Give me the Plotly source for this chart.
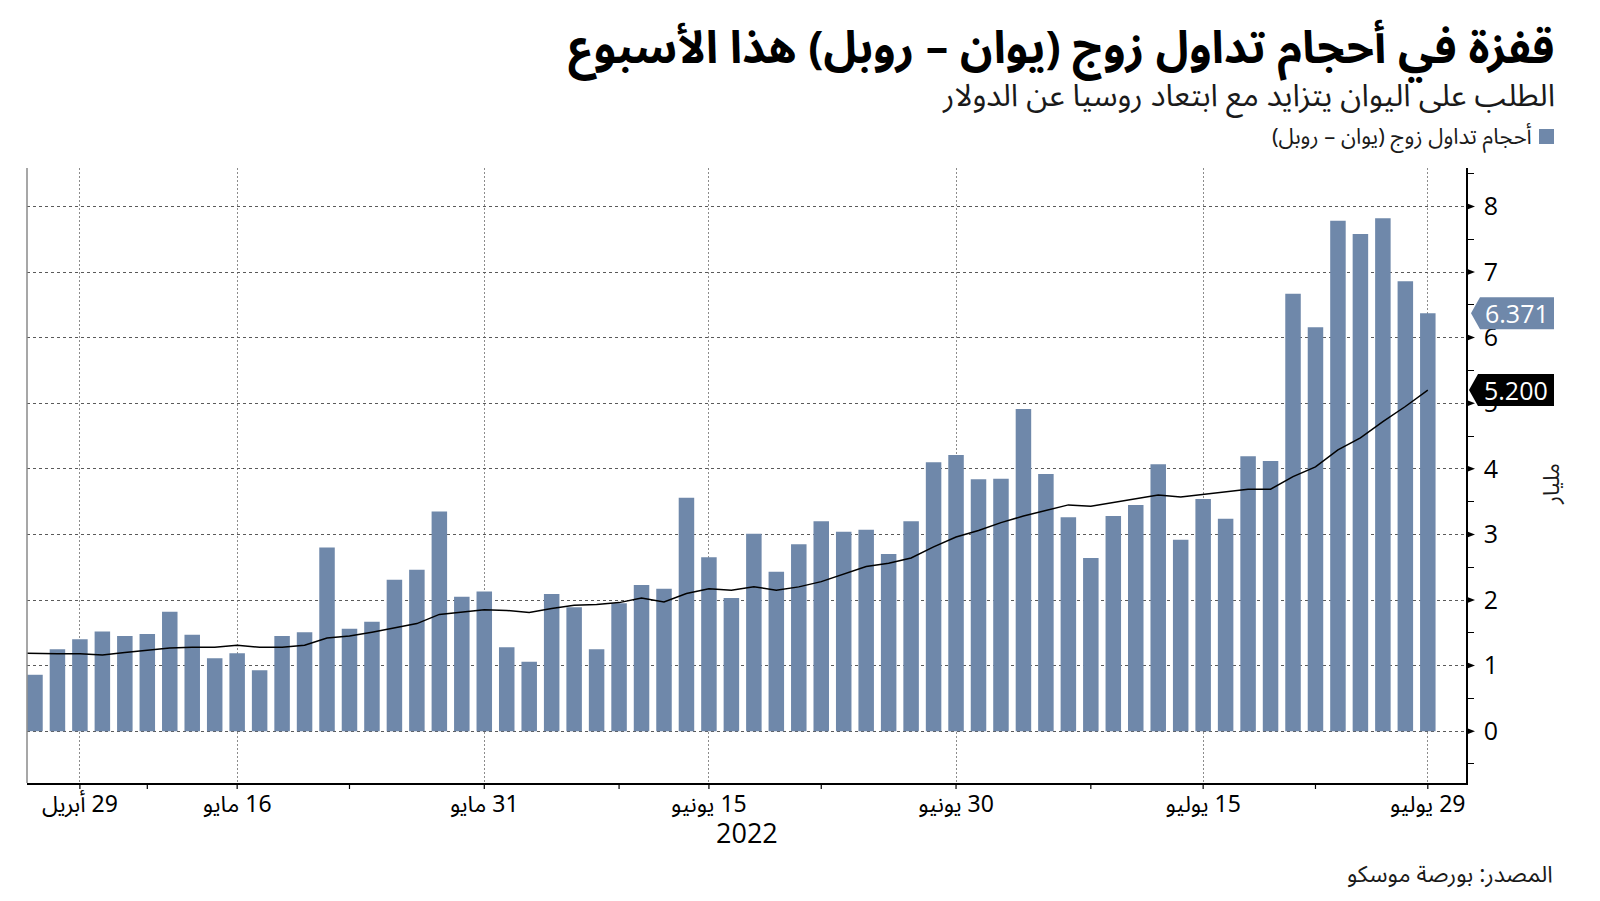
import plotly.graph_objects as go

# ---------------- data ----------------
ma_start_date = "2022-04-26"
dates = [
    "2022-04-27", "2022-04-28", "2022-04-29",
    "2022-05-04", "2022-05-05", "2022-05-06",
    "2022-05-11", "2022-05-12", "2022-05-13",
    "2022-05-16", "2022-05-17", "2022-05-18", "2022-05-19", "2022-05-20",
    "2022-05-23", "2022-05-24", "2022-05-25", "2022-05-26", "2022-05-27",
    "2022-05-30", "2022-05-31", "2022-06-01", "2022-06-02", "2022-06-03",
    "2022-06-06", "2022-06-07", "2022-06-08", "2022-06-09", "2022-06-10",
    "2022-06-14", "2022-06-15", "2022-06-16", "2022-06-17",
    "2022-06-20", "2022-06-21", "2022-06-22", "2022-06-23", "2022-06-24",
    "2022-06-27", "2022-06-28", "2022-06-29", "2022-06-30", "2022-07-01",
    "2022-07-04", "2022-07-05", "2022-07-06", "2022-07-07", "2022-07-08",
    "2022-07-11", "2022-07-12", "2022-07-13", "2022-07-14", "2022-07-15",
    "2022-07-18", "2022-07-19", "2022-07-20", "2022-07-21", "2022-07-22",
    "2022-07-25", "2022-07-26", "2022-07-27", "2022-07-28", "2022-07-29",
]
volumes = [
    0.86, 1.25, 1.40, 1.52, 1.45, 1.48, 1.82, 1.47, 1.11, 1.19,
    0.93, 1.45, 1.51, 2.80, 1.56, 1.67, 2.31, 2.46, 3.35, 2.05,
    2.13, 1.28, 1.06, 2.09, 1.89, 1.25, 1.95, 2.23, 2.17, 3.56,
    2.65, 2.03, 3.01, 2.43, 2.85, 3.20, 3.04, 3.07, 2.70, 3.20,
    4.10, 4.21, 3.84, 3.85, 4.91, 3.92, 3.26, 2.64, 3.28, 3.45,
    4.07, 2.92, 3.54, 3.24, 4.19, 4.12, 6.67, 6.16, 7.78, 7.58,
    7.82, 6.86, 6.371,
]
moving_avg = [
    1.19, 1.18, 1.18, 1.18, 1.16, 1.20, 1.24, 1.27, 1.28, 1.28,
    1.31, 1.28, 1.28, 1.31, 1.42, 1.45, 1.51, 1.58, 1.64, 1.78,
    1.82, 1.85, 1.84, 1.81, 1.87, 1.92, 1.93, 1.96, 2.03, 1.97,
    2.10, 2.17, 2.15, 2.20, 2.15, 2.20, 2.28, 2.39, 2.51, 2.56,
    2.64, 2.81, 2.96, 3.06, 3.18, 3.28, 3.37, 3.45, 3.43, 3.49,
    3.54, 3.60, 3.57, 3.61, 3.64, 3.69, 3.69, 3.88, 4.03, 4.29,
    4.47, 4.72, 4.95, 5.20,
]
x_tick_dates = ["2022-04-29", "2022-05-16", "2022-05-31", "2022-06-15",
                "2022-06-30", "2022-07-15", "2022-07-29"]
x_tick_labels = ["29 أبريل", "16 مايو", "31 مايو", "15 يونيو",
                 "30 يونيو", "15 يوليو", "29 يوليو"]
x_minor_dates = ["2022-05-06", "2022-05-23", "2022-06-08", "2022-06-22",
                 "2022-07-08", "2022-07-22"]
y_ticks = [0, 1, 2, 3, 4, 5, 6, 7, 8]
y_minor = [-0.5, 0.5, 1.5, 2.5, 3.5, 4.5, 5.5, 6.5, 7.5, 8.5]

title = "قفزة في أحجام تداول زوج (يوان – روبل) هذا الأسبوع"
subtitle = "الطلب على اليوان يتزايد مع ابتعاد روسيا عن الدولار"
legend_label = "أحجام تداول زوج (يوان – روبل)"
y_title = "مليار"
x_title = "2022"
source = "المصدر: بورصة موسكو"

last_bar_label = "6.371"
last_ma_label = "5.200"

# ---------------- style ----------------
BAR = "#6f88aa"
AR_FONT = "Noto Sans Arabic, DejaVu Sans, sans-serif"
NUM_FONT = "Open Sans, DejaVu Sans, sans-serif"
RLM = "\u200f"


def rtl(s):
    return RLM + s + RLM


W, H = 1600, 901
ML, MR, MT, MB = 27, 134, 168, 118
PW, PH = W - ML - MR, H - MT - MB


def px(x):
    return (x - ML) / PW


def py(y):
    return (H - MB - y) / PH


cats = [ma_start_date] + dates

fig = go.Figure()
fig.add_trace(go.Bar(
    x=dates, y=volumes, marker=dict(color=BAR, line=dict(width=0)),
    width=0.69, showlegend=False, hoverinfo="x+y",
))
fig.add_trace(go.Scatter(
    x=cats, y=moving_avg, mode="lines",
    line=dict(color="#000000", width=1.5), showlegend=False,
))

shapes = []
# left spine
shapes.append(dict(type="line", xref="paper", yref="paper", x0=0, x1=0, y0=0, y1=1,
                   line=dict(color="#8a8a8a", width=1.5), layer="above"))
# y major tick triangles
for v in y_ticks:
    shapes.append(dict(type="path", xref="paper", yref="y", xsizemode="pixel",
                       ysizemode="pixel", xanchor=1, yanchor=v,
                       path="M 0 -3.5 L 9 0 L 0 3.5 Z",
                       fillcolor="#000000", line=dict(width=0), layer="above"))
# x tick marks (major + minor)
for d in x_tick_dates + x_minor_dates:
    shapes.append(dict(type="line", xref="x", yref="paper", x0=d, x1=d,
                       ysizemode="pixel", yanchor=0, y0=0, y1=-6,
                       line=dict(color="#000000", width=1.2), layer="above"))
# value flags
shapes.append(dict(type="path", xref="paper", yref="y", xsizemode="pixel",
                   ysizemode="pixel", xanchor=1, yanchor=volumes[-1],
                   path="M 5 0 L 14 -16 L 88 -16 L 88 16 L 14 16 Z",
                   fillcolor=BAR, line=dict(width=0), layer="above"))
shapes.append(dict(type="path", xref="paper", yref="y", xsizemode="pixel",
                   ysizemode="pixel", xanchor=1, yanchor=moving_avg[-1],
                   path="M 3 0 L 12 -16 L 88 -16 L 88 16 L 12 16 Z",
                   fillcolor="#000000", line=dict(width=0), layer="above"))
# legend swatch
shapes.append(dict(type="rect", xref="paper", yref="paper",
                   x0=px(1539), x1=px(1554), y0=py(144), y1=py(129),
                   fillcolor=BAR, line=dict(width=0)))

annotations = [
    dict(text=rtl(title), x=px(1557), y=py(48), xanchor="right", yanchor="middle",
         font=dict(family=AR_FONT, size=45, color="#000000", weight="bold")),
    dict(text=rtl(subtitle), x=px(1557), y=py(96), xanchor="right", yanchor="middle",
         font=dict(family=AR_FONT, size=31, color="#1a1a1a")),
    dict(text=rtl(legend_label), x=px(1534), y=py(137), xanchor="right", yanchor="middle",
         font=dict(family=AR_FONT, size=22, color="#1a1a1a")),
    dict(text=rtl(source), x=px(1555), y=py(874), xanchor="right", yanchor="middle",
         font=dict(family=AR_FONT, size=23, color="#1a1a1a")),
    dict(text=rtl(y_title), x=px(1552), y=py(484), xanchor="center", yanchor="middle",
         textangle=-90, font=dict(family=AR_FONT, size=22, color="#1a1a1a")),
    dict(text=x_title, x=0.5, y=py(832), xanchor="center", yanchor="middle",
         font=dict(family=NUM_FONT, size=27, color="#000000")),
    dict(text=last_bar_label, xref="paper", yref="y", x=1, y=volumes[-1],
         xanchor="center", yanchor="middle", xshift=51, showarrow=False,
         font=dict(family=NUM_FONT, size=25, color="#ffffff")),
    dict(text=last_ma_label, xref="paper", yref="y", x=1, y=moving_avg[-1],
         xanchor="center", yanchor="middle", xshift=50, showarrow=False,
         font=dict(family=NUM_FONT, size=25, color="#ffffff")),
]
for a in annotations:
    a.setdefault("xref", "paper")
    a.setdefault("yref", "paper")
    a.setdefault("showarrow", False)

fig.update_layout(
    width=W, height=H,
    margin=dict(l=ML, r=MR, t=MT, b=MB, pad=0),
    paper_bgcolor="#ffffff", plot_bgcolor="#ffffff",
    bargap=0.31,
    shapes=shapes,
    annotations=annotations,
    xaxis=dict(
        type="category", categoryorder="array", categoryarray=cats,
        range=[0.645, 64.70],
        tickmode="array", tickvals=x_tick_dates,
        ticktext=[rtl(t) for t in x_tick_labels],
        ticks="", ticklabelstandoff=0,
        showline=True, linecolor="#000000", linewidth=1.5,
        showgrid=True, gridcolor="#8c8c8c", gridwidth=1, griddash="2px,2px",
        tickfont=dict(family=AR_FONT, size=23, color="#000000"),
        zeroline=False, fixedrange=True,
    ),
    yaxis=dict(
        side="right", range=[-0.79, 8.586],
        tickmode="array", tickvals=y_ticks,
        ticks="", showline=True, linecolor="#000000", linewidth=1.5,
        showgrid=True, gridcolor="#5a5a5a", gridwidth=1, griddash="3px,3px",
        zeroline=False,
        tickfont=dict(family=NUM_FONT, size=25, color="#000000"),
        ticklabelstandoff=11,
        minor=dict(tickmode="array", tickvals=y_minor, ticks="outside",
                   ticklen=6, tickwidth=1.2, tickcolor="#000000", showgrid=False),
        fixedrange=True,
    ),
)

fig.write_html("out.html")
